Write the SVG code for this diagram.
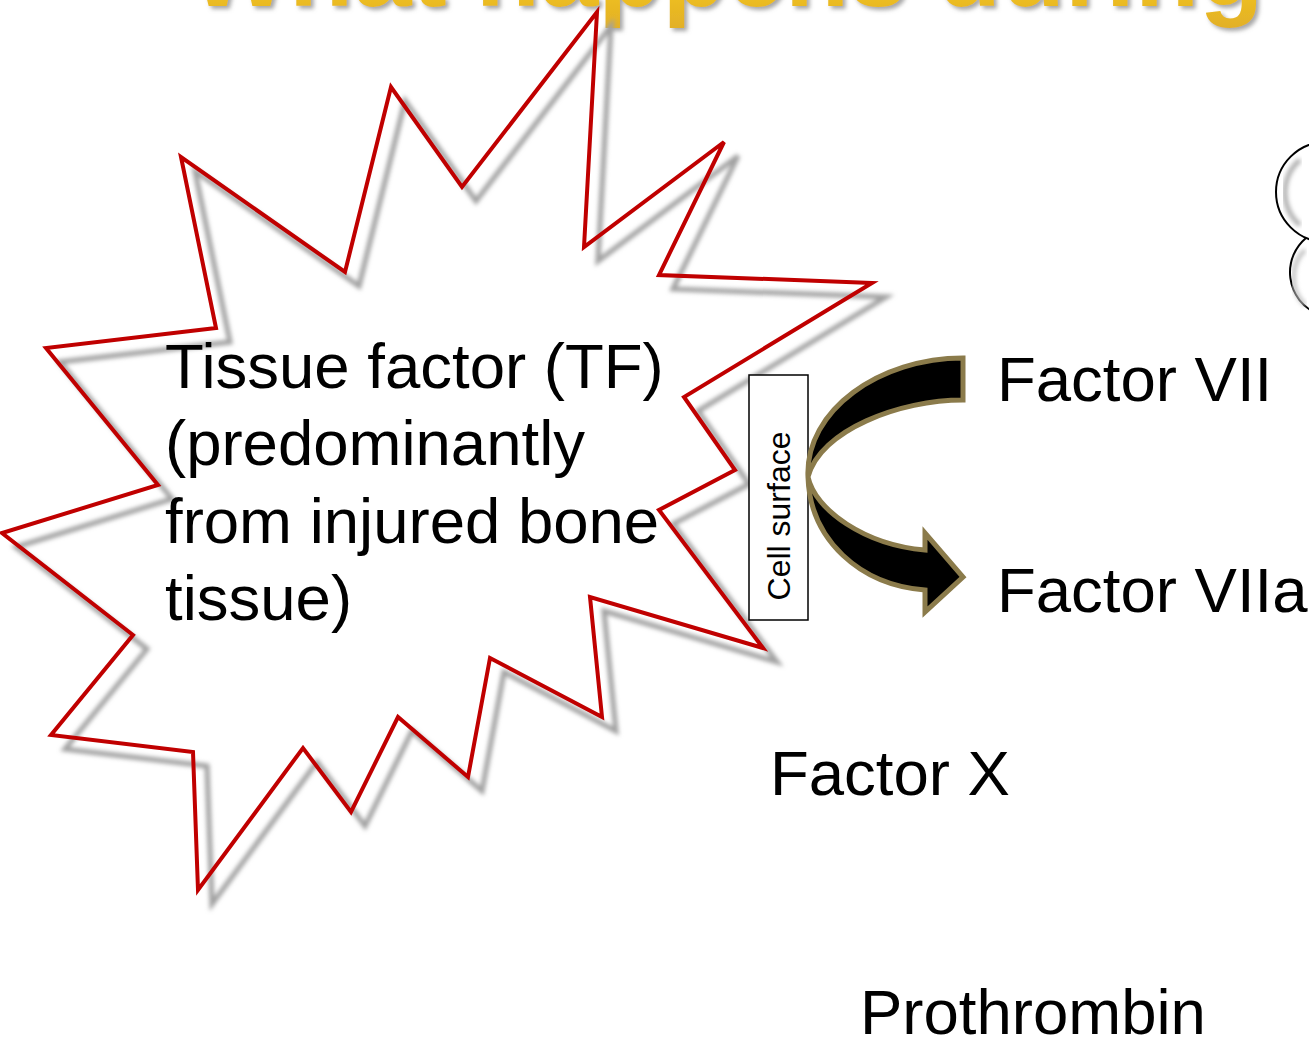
<svg xmlns="http://www.w3.org/2000/svg" width="1309" height="1040" viewBox="0 0 1309 1040">
  <style>
    .lbl { font-family: "Liberation Sans", Arial, sans-serif; font-size: 63.5px; fill: #000; }
    .title { font-family: "Liberation Sans", Arial, sans-serif; font-weight: bold; font-size: 105px; fill: url(#gold); }
    .burst { fill: none; stroke: #C00000; stroke-width: 4; stroke-linejoin: miter; }
    .burst-shadow { fill: none; stroke: #a0a0a0; stroke-width: 5; filter: url(#blur2); }
    .cell { fill: none; stroke: #000; stroke-width: 2; }
  </style>
  <defs>
    <linearGradient id="gold" x1="0" y1="0" x2="0" y2="1">
      <stop offset="0" stop-color="#FBE04A"/>
      <stop offset="0.6" stop-color="#F2C41C"/>
      <stop offset="1" stop-color="#E2B028"/>
    </linearGradient>
    <filter id="blur2" x="-10%" y="-10%" width="120%" height="120%">
      <feGaussianBlur stdDeviation="2"/>
    </filter>
    <filter id="tshadow" x="-5%" y="-50%" width="110%" height="200%">
      <feDropShadow dx="3" dy="3" stdDeviation="2" flood-color="#808080" flood-opacity="0.7"/>
    </filter>
  </defs>

  <rect width="1309" height="1040" fill="#fff"/>

  <g id="title">
    <text class="title" x="190" y="6" filter="url(#tshadow)">What happens during</text>
  </g>

  <g id="tissue-factor">
    <polygon class="burst-shadow" transform="translate(14,14)" points="597,12 584,247 724,142 659,275 872,283 684,397 735,470 659,510 763,648 590,597 602,717 490,658 468,777 398,717 351,812 303,748 198,890 193,752 51,735 133,635 2,533 158,485 46,348 216,328 181,157 345,272 391,87 462,187"/>
    <polygon class="burst" points="597,12 584,247 724,142 659,275 872,283 684,397 735,470 659,510 763,648 590,597 602,717 490,658 468,777 398,717 351,812 303,748 198,890 193,752 51,735 133,635 2,533 158,485 46,348 216,328 181,157 345,272 391,87 462,187"/>
    <text class="lbl" font-size="64">
      <tspan x="165" y="388">Tissue factor (TF)</tspan>
      <tspan x="165" y="465">(predominantly</tspan>
      <tspan x="165" y="543">from injured bone</tspan>
      <tspan x="165" y="620">tissue)</tspan>
    </text>
  </g>

  <g id="cell-surface">
    <rect x="749" y="375" width="59" height="245" fill="#fff" stroke="#000" stroke-width="1.5"/>
    <text transform="translate(790,516) rotate(-90)" text-anchor="middle" font-family="Liberation Sans, Arial, sans-serif" font-size="32">Cell surface</text>
  </g>

  <g id="cells">
    <path d="M1306,238 A45,45 0 1 0 1380,273" class="cell"/>
    <circle cx="1326" cy="192" r="50" class="cell"/>
    <path d="M1300,160 A36,40 0 0 0 1300,225" fill="none" stroke="#b0b0b0" stroke-width="5" filter="url(#blur2)"/>
    <path d="M1305,250 A32,36 0 0 0 1305,305" fill="none" stroke="#c0c0c0" stroke-width="4" filter="url(#blur2)"/>
  </g>

  <g id="factor-vii"><text class="lbl" x="997" y="401">Factor VII</text></g>
  <g id="factor-viia"><text class="lbl" x="997" y="612">Factor VIIa</text></g>
  <g id="factor-x"><text class="lbl" x="770" y="795">Factor X</text></g>
  <g id="prothrombin"><text class="lbl" x="860" y="1034">Prothrombin</text></g>

  <g id="connectors">
    <path d="M963,358 L963,400 C900,400 820,430 808,477 C815,510 865,545 925,550 L925,533 L963,577 L925,612 L925,590 C860,585 810,540 808,477 C805,410 880,358 963,358 Z" fill="#000" stroke="#8B7B4B" stroke-width="5" stroke-linejoin="miter"/>
  </g>
</svg>
